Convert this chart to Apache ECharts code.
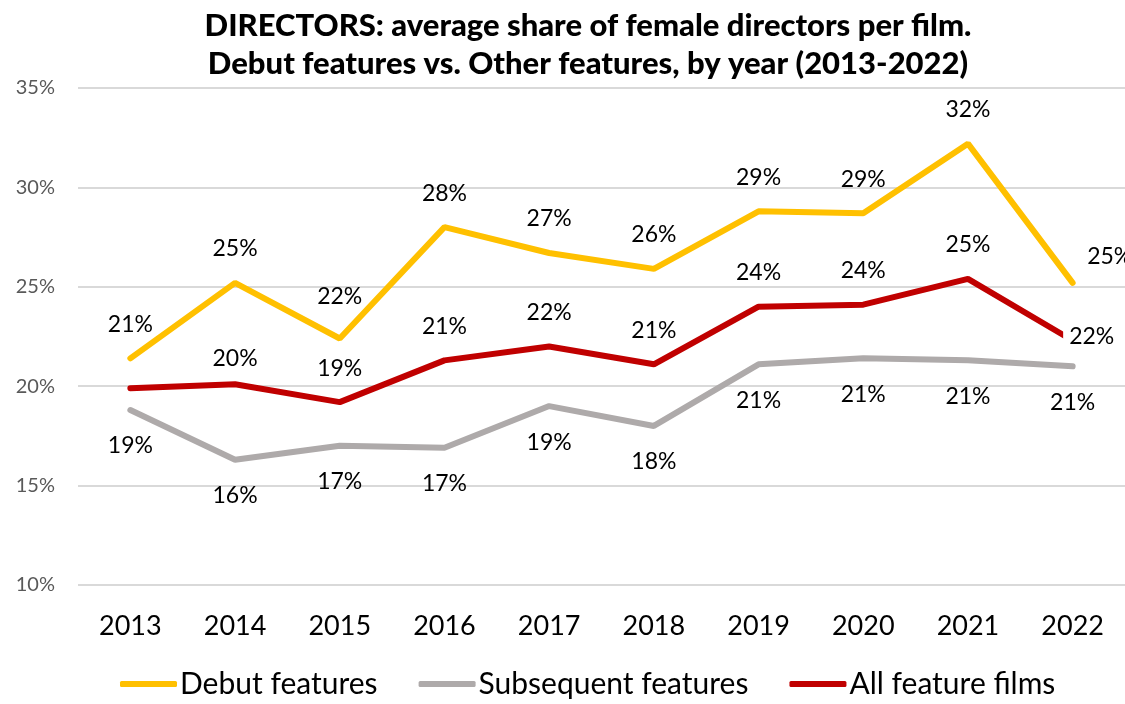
<!DOCTYPE html>
<html>
<head>
<meta charset="utf-8">
<script src="https://cdn.jsdelivr.net/npm/echarts@6/dist/echarts.min.js"></script>
<style>
    html, body {margin: 0; padding: 0; background: #fff;}
    #chart {width: 1125px; height: 704px;}
</style>
</head>
<body>
<div id="chart"></div>
<script>
// years on the x axis
var years = ['2013', '2014', '2015', '2016', '2017', '2018', '2019', '2020', '2021', '2022'];
// average share of female directors (%)
var debutShare = [21.4, 25.2, 22.4, 28.0, 26.7, 25.9, 28.8, 28.7, 32.2, 25.2];
var subsequentShare = [18.8, 16.3, 17.0, 16.9, 19.0, 18.0, 21.1, 21.4, 21.3, 21.0];
var allShare = [19.9, 20.1, 19.2, 21.3, 22.0, 21.1, 24.0, 24.1, 25.4, 22.3];
var yTicks = [10, 15, 20, 25, 30, 35];

var labelFont = {fontFamily: 'Lato', fontSize: 23, color: '#000'};

// special label tweaks per point index
function buildData(values, tweaks) {
    return values.map(function (v, i) {
        var item = {value: v};
        if (tweaks[i]) item.label = tweaks[i];
        return item;
    });
}

function pct(p) { return Math.round(p.value) + '%'; }

var chart = echarts.init(document.getElementById('chart'));
chart.setOption({
    animation: false,
    title: {
        text: 'DIRECTORS: average share of female directors per film.\nDebut features vs. Other features, by year (2013-2022)',
        left: 583,
        top: 2,
        textAlign: 'center',
        textStyle: {
            fontFamily: 'Lato',
            fontWeight: 900,
            fontSize: 31,
            lineHeight: 38,
            color: '#000'
        }
    },
    legend: {
        bottom: 0,
        left: 115,
        itemGap: 41,
        itemWidth: 57,
        itemHeight: 6,
        icon: 'roundRect',
        textStyle: {fontFamily: 'Lato', fontSize: 30, color: '#000', padding: [0, 0, 0, -2]},
        data: ['Debut features', 'Subsequent features', 'All feature films']
    },
    grid: {left: 78, top: 88, width: 1065, height: 497},
    xAxis: {
        type: 'category',
        data: years,
        boundaryGap: true,
        axisLine: {show: false},
        axisTick: {show: false},
        axisLabel: {fontFamily: 'Lato', fontSize: 27, color: '#000', margin: 28}
    },
    yAxis: {
        type: 'value',
        min: yTicks[0],
        max: yTicks[yTicks.length - 1],
        interval: 5,
        axisLabel: {
            fontFamily: 'Lato', fontSize: 20, color: '#595959', margin: 23,
            formatter: function (v) { return v + '%'; }
        },
        splitLine: {lineStyle: {color: '#d9d9d9', width: 2}}
    },
    series: [
        {
            name: 'Debut features',
            type: 'line',
            data: buildData(debutShare, {
                2: {offset: [0, -8]},
                9: {position: 'right', offset: [-8, -26]}
            }),
            symbol: 'circle',
            symbolSize: 1,
            lineStyle: {color: '#FFC000', width: 6, cap: 'round'},
            itemStyle: {color: '#FFC000'},
            label: Object.assign({show: true, position: 'top', distance: 22, formatter: pct}, labelFont),
            z: 3
        },
        {
            name: 'Subsequent features',
            type: 'line',
            data: buildData(subsequentShare, {}),
            symbol: 'circle',
            symbolSize: 1,
            lineStyle: {color: '#AEAAAA', width: 6, cap: 'round'},
            itemStyle: {color: '#AEAAAA'},
            label: Object.assign({show: true, position: 'bottom', distance: 24, formatter: pct}, labelFont),
            z: 2
        },
        {
            name: 'All feature films',
            type: 'line',
            data: buildData(allShare, {
                0: {show: false},
                1: {offset: [0, 8]},
                9: {position: 'right', distance: -10, offset: [0, -4], backgroundColor: '#fff', padding: [2, 2, 2, 6]}
            }),
            symbol: 'circle',
            symbolSize: 1,
            lineStyle: {color: '#C00000', width: 6, cap: 'round'},
            itemStyle: {color: '#C00000'},
            label: Object.assign({show: true, position: 'top', distance: 22, formatter: pct}, labelFont),
            z: 4
        }
    ]
});
</script>
</body>
</html>
